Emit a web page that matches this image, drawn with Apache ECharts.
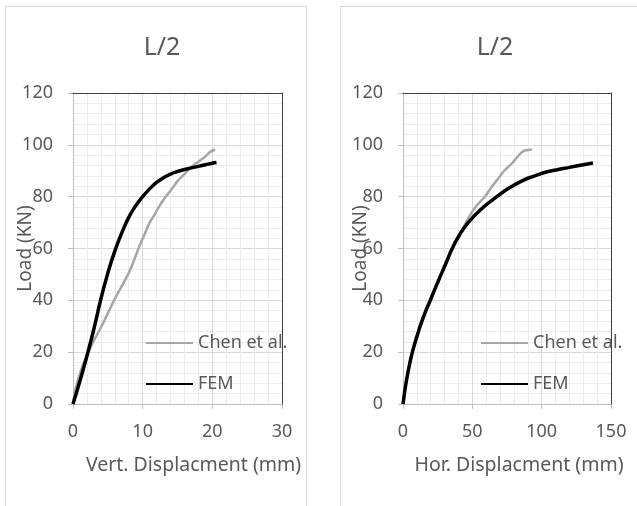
<!DOCTYPE html>
<html>
<head>
    <meta charset="utf-8" />
    <title>L/2 load-displacement</title>
    <style type="text/css">
        body, html {width: 100%;height: 100%;margin:0;background:#fff;}
        #chart{width:637px;height:506px;}
    </style>
    <script src="https://cdn.jsdelivr.net/npm/echarts@6/dist/echarts.min.js"></script>
</head>
<body>
<div id="chart"></div>
<script type="text/javascript">
    // values, [displacement mm, load kN]
    var vertChen = [[0, 0], [0.3, 5], [0.8, 10], [1.4, 15], [2.2, 20], [3.1, 25], [4.1, 30], [5.0, 35], [5.9, 40],
        [6.9, 45], [7.9, 50], [8.7, 55], [9.4, 60], [10.2, 65], [11.0, 70], [11.7, 73], [12.3, 76], [13.3, 80],
        [14.2, 83], [15.0, 86], [16.1, 89], [17.0, 91.5], [18.0, 93.5], [19.0, 95.5], [19.7, 97.3], [20.4, 98.2]];
    var vertFem = [[0, 0], [1, 9], [2, 18.5], [3, 29], [4, 40.5], [5, 50.5], [6, 59], [7, 66], [8, 72], [9, 76.5],
        [10, 80], [11, 83], [12, 85.5], [13, 87.3], [14, 88.7], [15, 89.7], [16, 90.5], [17, 91.1], [18, 91.7],
        [19, 92.3], [20, 92.9], [20.6, 93.2]];
    var horChen = [[0, 0], [1, 4], [2, 7.5], [3.5, 12], [5, 16], [7, 20.5], [10, 26], [13, 31], [16.5, 36],
        [19.7, 40], [23.5, 45], [27.5, 50], [31.5, 55], [35.5, 60], [40.5, 65], [44, 68.5], [48, 72.5], [53, 76.5],
        [59, 80], [64, 83.8], [68, 86.5], [73, 90], [78.5, 92.8], [82, 95], [85, 96.8], [88, 97.8], [93, 98.2]];
    var horFem = [[0, 0], [1, 4], [2, 7.5], [3.5, 12], [5, 16], [7, 20.5], [10, 26], [13, 31], [16.5, 36],
        [19.7, 40], [23.5, 45], [27.5, 50], [31.5, 55], [35.5, 60], [40.5, 65], [47, 70], [57, 75.5], [67.7, 80],
        [77, 83.5], [87, 86.4], [95, 88], [104, 89.6], [112, 90.5], [120, 91.3], [128, 92.1], [137, 93]];
    var loadTicks = [0, 120, 20];
    var vertTicks = [0, 30, 10];
    var horTicks = [0, 150, 50];

    var txt = '#595959';
    var font = 'Noto Sans';

    function xAxis(idx, ticks, name, pad) {
        return {
            type: 'value', gridIndex: idx, min: ticks[0], max: ticks[1], interval: ticks[2],
            name: name, nameLocation: 'middle', nameGap: 51, nameMoveOverlap: false,
            nameTextStyle: {color: txt, fontSize: 19.5, fontFamily: font, padding: [0, 0, 0, pad]},
            axisLine: {show: true, lineStyle: {color: '#bfbfbf', width: 1}},
            axisTick: {show: true, length: 5, lineStyle: {color: '#bfbfbf'}},
            axisLabel: {color: txt, fontSize: 18, fontFamily: font, margin: 19},
            splitLine: {show: true, lineStyle: {color: '#d9d9d9', width: 1}},
            minorTick: {show: false, splitNumber: 5},
            minorSplitLine: {show: true, lineStyle: {color: '#ececec', width: 1}}
        };
    }

    function yAxis(idx, gap) {
        return {
            type: 'value', gridIndex: idx, min: loadTicks[0], max: loadTicks[1], interval: loadTicks[2],
            name: 'Load (KN)', nameLocation: 'middle', nameGap: gap, nameMoveOverlap: false,
            nameTextStyle: {color: txt, fontSize: 19, fontFamily: font},
            axisLine: {show: true, lineStyle: {color: '#bfbfbf', width: 1}},
            axisTick: {show: true, length: 5, lineStyle: {color: '#bfbfbf'}},
            axisLabel: {color: txt, fontSize: 18, fontFamily: font, margin: 20},
            splitLine: {show: true, lineStyle: {color: '#d9d9d9', width: 1}},
            minorTick: {show: false, splitNumber: 5},
            minorSplitLine: {show: true, lineStyle: {color: '#ececec', width: 1}}
        };
    }

    // dark plot-area frame on top and right, drawn as bare axes
    function frameX(idx, ticks) {
        return {
            type: 'value', gridIndex: idx, position: 'top', z: 3, min: ticks[0], max: ticks[1], interval: ticks[2],
            axisLine: {show: true, onZero: false, lineStyle: {color: '#404040', width: 1}},
            axisTick: {show: false}, axisLabel: {show: false}, splitLine: {show: false}
        };
    }
    function frameY(idx) {
        return {
            type: 'value', gridIndex: idx, position: 'right', z: 3, min: loadTicks[0], max: loadTicks[1], interval: loadTicks[2],
            axisLine: {show: true, onZero: false, lineStyle: {color: '#404040', width: 1}},
            axisTick: {show: false}, axisLabel: {show: false}, splitLine: {show: false}
        };
    }

    function legend(left) {
        return {
            left: left, top: 333, padding: 0, orient: 'vertical', itemWidth: 47, itemHeight: 14, itemGap: 21,
            itemStyle: {opacity: 0},
            textStyle: {color: txt, fontSize: 18, fontFamily: font, lineHeight: 20},
            data: ['Chen et al.', 'FEM']
        };
    }

    function line(name, idx, data, color, width, smooth) {
        return {
            name: name, type: 'line', xAxisIndex: idx, yAxisIndex: idx, data: data,
            showSymbol: false, symbol: 'none', smooth: smooth,
            lineStyle: {color: color, width: width}, itemStyle: {color: color},
            emphasis: {disabled: true}
        };
    }

    var chart = echarts.init(document.getElementById('chart'));
    var option = {
        backgroundColor: '#fff',
        animation: false,
        title: [
            {text: 'L/2', left: 157, top: 30, textAlign: 'center',
                textStyle: {color: txt, fontSize: 25, fontWeight: 'normal', fontFamily: font}},
            {text: 'L/2', left: 490, top: 30, textAlign: 'center',
                textStyle: {color: txt, fontSize: 25, fontWeight: 'normal', fontFamily: font}}
        ],
        graphic: [
            {type: 'rect', z: -10, shape: {x: 5.5, y: 6.5, width: 301, height: 530},
                style: {fill: 'none', stroke: '#d9d9d9', lineWidth: 1}},
            {type: 'rect', z: -10, shape: {x: 340.5, y: 6.5, width: 330, height: 530},
                style: {fill: 'none', stroke: '#d9d9d9', lineWidth: 1}}
        ],
        grid: [
            {left: 73, top: 93, width: 209, height: 311},
            {left: 403, top: 93, width: 208, height: 311}
        ],
        legend: [legend(145), legend(480)],
        xAxis: [
            xAxis(0, vertTicks, 'Vert. Displacment (mm)', 32),
            xAxis(1, horTicks, 'Hor. Displacment (mm)', 24),
            frameX(0, vertTicks),
            frameX(1, horTicks)
        ],
        yAxis: [yAxis(0, 38), yAxis(1, 33), frameY(0), frameY(1)],
        series: [
            line('Chen et al.', 0, vertChen, '#a6a6a6', 2.5, 0.3),
            line('FEM', 0, vertFem, '#000000', 3.5, 0.5),
            line('Chen et al.', 1, horChen, '#a6a6a6', 2.5, 0.3),
            line('FEM', 1, horFem, '#000000', 3.5, 0.5)
        ]
    };
    chart.setOption(option);
</script>
</body>
</html>
